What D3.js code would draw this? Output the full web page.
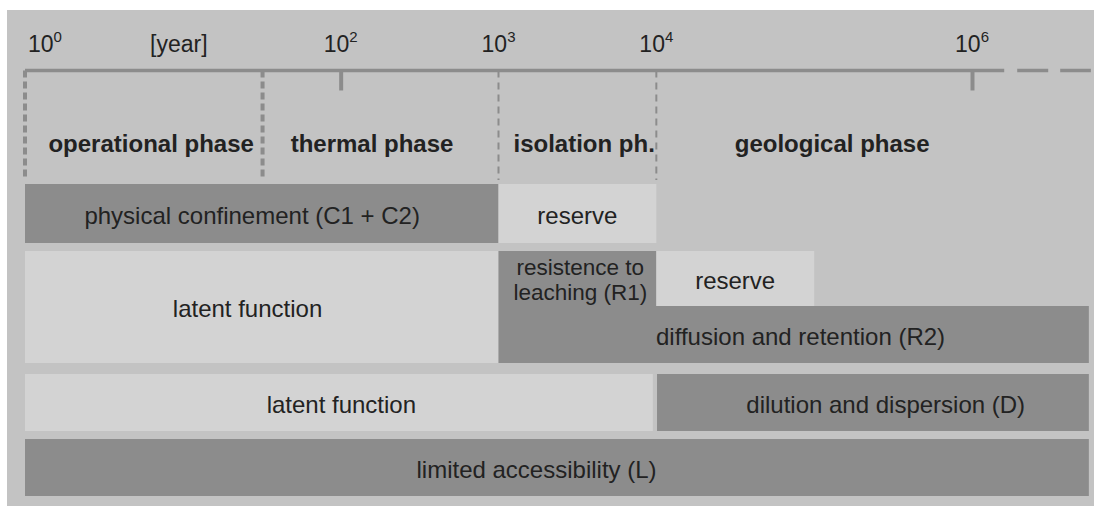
<!DOCTYPE html>
<html>
<head>
<meta charset="utf-8">
<script src="https://cdn.jsdelivr.net/npm/d3@7"></script>
<style>
  html, body { margin: 0; padding: 0; background: #ffffff; }
  svg { display: block; font-family: "Liberation Sans", Arial, Helvetica, sans-serif; }
</style>
</head>
<body>
<svg id="chart" width="1094" height="506"></svg>
<script>
// ---------------- data ----------------
const tickExponents   = [0, 2, 3, 4, 6];          // axis labels 10^n
const tickMarkYears   = [1e2, 1e6];               // small tick marks on the axis
const axisUnit        = "[year]";
const axisUnitAt      = 10;                        // year position of the unit label
const axisBreakYear   = 1.6e6;                    // solid axis ends, dashes begin
const axisEndYear     = 5.5e6;                    // end of the time span

const phaseNames      = ["operational phase", "thermal phase", "isolation ph.", "geological phase"];
const phaseStarts     = [1, 32, 1e3, 1e4];
const phaseBoldLine   = [true, true, false, false]; // heavy vs light divider at phase start
const phaseLabelAt    = [6.3, 158, 3490, 1.3e5];

const barLabels = [
  "physical confinement (C1 + C2)",
  "reserve",
  "latent function",
  "resistence to|leaching (R1)",
  "reserve",
  "diffusion and retention (R2)",
  "latent function",
  "dilution and dispersion (D)",
  "limited accessibility (L)"
];
const barStart   = [1,   1e3, 1,   1e3,   1e4,   1e3,         1,    1.01e4,      1];
const barEnd     = [1e3, 1e4, 1e3, 1e4,   1e5,   axisEndYear, 9500, axisEndYear, axisEndYear];
const barRow     = ["C", "C", "R", "R",   "R",   "R",         "D",  "D",         "L"];
const barPart    = ["full","full","full","top","top","bottom","full","full","full"];
const barActive  = [true, false, false, true, false, true, false, true, true];
const barLabelAt = [27.5, 3160, 25.7, 3300, 31600, 8.2e4, 101, 2.84e5, 1742];

// ---------------- layout ----------------
const W = 1094, H = 506;
const svg = d3.select("#chart");

const colBg = "#c3c3c3", colDark = "#8c8c8c", colLight = "#d3d3d3", colText = "#222222";

const x = d3.scaleLog().domain([1, 1e6]).range([25, 972]);

const axisY = 70.5;
const rows = {
  C: { y0: 184, y1: 243 },
  R: { y0: 251, y1: 363, split: 306 },
  D: { y0: 374, y1: 431 },
  L: { y0: 439, y1: 496 }
};

// panel
svg.append("rect").attr("x", 7).attr("y", 10).attr("width", W - 7).attr("height", H - 10).attr("fill", colBg);

// phase dividers
svg.append("g").selectAll("line").data(phaseStarts).join("line")
  .attr("x1", d => x(d)).attr("x2", d => x(d))
  .attr("y1", axisY).attr("y2", 180)
  .attr("stroke", colDark)
  .attr("stroke-width", (d, i) => phaseBoldLine[i] ? 4 : 2)
  .attr("stroke-dasharray", (d, i) => phaseBoldLine[i] ? "7,4" : "7,5");

// axis line (solid part + break dashes)
svg.append("line").attr("x1", x(1)).attr("x2", x(axisBreakYear))
  .attr("y1", axisY).attr("y2", axisY).attr("stroke", colDark).attr("stroke-width", 3.5);
svg.append("line").attr("x1", x(axisBreakYear)).attr("x2", x(axisEndYear) + 2)
  .attr("y1", axisY).attr("y2", axisY).attr("stroke", colDark).attr("stroke-width", 3.5)
  .attr("stroke-dasharray", "0,13,31,12,31");

// tick marks via d3 axis
const axisG = svg.append("g").attr("transform", `translate(0,${axisY})`)
  .call(d3.axisBottom(x).tickValues(tickMarkYears).tickSize(20).tickFormat(""));
axisG.select(".domain").remove();
axisG.selectAll(".tick line").attr("stroke", colDark).attr("stroke-width", 4);

// tick labels 10^n
const lab = svg.append("g").selectAll("text").data(tickExponents).join("text")
  .attr("x", d => d === 0 ? x(1) + 3 : x(Math.pow(10, d)))
  .attr("y", 52)
  .attr("text-anchor", d => d === 0 ? "start" : "middle")
  .attr("fill", colText).attr("font-size", 23);
lab.append("tspan").text("10");
lab.append("tspan").attr("dy", -10).attr("font-size", 15).text(d => d);

svg.append("text").attr("x", x(axisUnitAt) - 4).attr("y", 52).attr("text-anchor", "middle")
  .attr("fill", colText).attr("font-size", 23).text(axisUnit);

// phase labels
svg.append("g").selectAll("text").data(phaseNames).join("text")
  .attr("x", (d, i) => x(phaseLabelAt[i]))
  .attr("y", 152)
  .attr("text-anchor", "middle")
  .attr("font-weight", "bold").attr("font-size", 24).attr("fill", colText)
  .text(d => d);

// bars
const bars = barLabels.map((label, i) => {
  const r = rows[barRow[i]];
  let y0 = r.y0, y1 = r.y1;
  if (barPart[i] === "top") { y1 = r.split; }
  if (barPart[i] === "bottom") { y0 = r.split; }
  return { label, i, x0: x(barStart[i]), x1: x(barEnd[i]), y0, y1, active: barActive[i], lx: x(barLabelAt[i]) };
});

svg.append("g").selectAll("rect").data(bars).join("rect")
  .attr("x", d => d.x0).attr("y", d => d.y0)
  .attr("width", d => d.x1 - d.x0).attr("height", d => d.y1 - d.y0)
  .attr("fill", d => d.active ? colDark : colLight);

const bt = svg.append("g").selectAll("text").data(bars).join("text")
  .attr("text-anchor", "middle").attr("fill", colText)
  .attr("font-size", d => d.label.includes("|") ? 22.5 : 24)
  .attr("x", d => d.lx)
  .attr("y", d => {
    const c = (d.y0 + d.y1) / 2;
    return d.label.includes("|") ? c - 3.5 : c + 10;
  });
bt.each(function(d) {
  const parts = d.label.split("|");
  const t = d3.select(this);
  parts.forEach((p, k) => {
    t.append("tspan").attr("x", d.lx).attr("dy", k === 0 ? 0 : 25).text(p);
  });
});
</script>
</body>
</html>
